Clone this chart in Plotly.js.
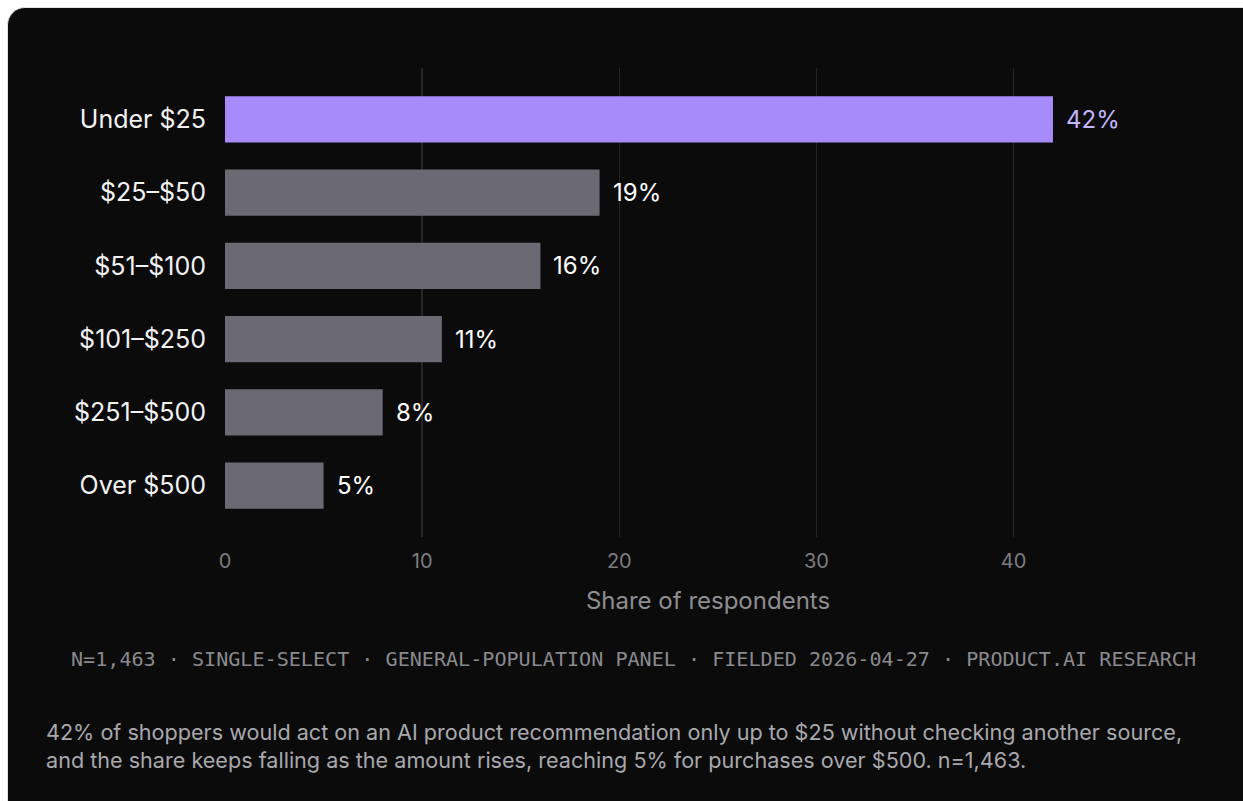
<!DOCTYPE html>
<html>
<head>
<meta charset="utf-8">
<script src="https://cdn.plot.ly/plotly-3.0.1.min.js"></script>
<style>
html,body{margin:0;padding:0;background:#ffffff;width:1243px;height:801px;overflow:hidden;}
#card{position:absolute;left:7px;top:7px;width:1260px;height:820px;background:#0b0b0b;border:1px solid #e2e2e2;border-radius:18px;}
#chart{position:absolute;left:0;top:0;width:1243px;height:801px;}
</style>
</head>
<body>
<div id="card"></div>
<div id="chart"></div>
<script>
const categories = ["Under $25", "$25–$50", "$51–$100", "$101–$250", "$251–$500", "Over $500"];
const shares = [42, 19, 16, 11, 8, 5];
const barColors = ["#a78bfa", "#6b6a73", "#6b6a73", "#6b6a73", "#6b6a73", "#6b6a73"];
const labelColors = ["#c4b5fd", "#ffffff", "#ffffff", "#ffffff", "#ffffff", "#ffffff"];
const xTicks = [0, 10, 20, 30, 40];
const footerText = "N=1,463 · SINGLE-SELECT · GENERAL-POPULATION PANEL · FIELDED 2026-04-27 · PRODUCT.AI RESEARCH";
const captionText = "42% of shoppers would act on an AI product recommendation only up to $25 without checking another source,<br>and the share keeps falling as the amount rises, reaching 5% for purchases over $500. n=1,463.";

const sans = "Inter, 'DejaVu Sans', sans-serif";
const mono = "'DejaVu Sans Mono', 'Liberation Mono', monospace";

const valueAnnots = categories.map((c, i) => ({
  x: shares[i], y: c, xref: "x", yref: "y",
  text: shares[i] + "%", showarrow: false, xanchor: "left", xshift: 11,
  font: {family: sans, size: 24, color: labelColors[i]}
}));

const data = [{
  type: "bar", orientation: "h",
  x: shares, y: categories,
  marker: {color: barColors},
  width: 0.63,
  hoverinfo: "skip"
}];

const layout = {
  width: 1243, height: 801,
  paper_bgcolor: "rgba(0,0,0,0)", plot_bgcolor: "rgba(0,0,0,0)",
  margin: {l: 225, r: 52, t: 68, b: 264},
  showlegend: false,
  xaxis: {
    range: [0, 49], tickvals: xTicks, ticktext: xTicks.map(String),
    showgrid: true, gridcolor: "#262626", gridwidth: 1.3, zeroline: false,
    showline: false, ticks: "", ticklabelstandoff: 10,
    tickfont: {family: sans, size: 20, color: "#7d7d80"},
    title: {text: "Share of respondents", standoff: 20, font: {family: sans, size: 24, color: "#8e8e92"}}
  },
  yaxis: {
    type: "category", range: [5.7, -0.7], autorange: false,
    showgrid: false, zeroline: false, showline: false, ticks: "",
    ticklabelstandoff: 18,
    tickfont: {family: sans, size: 25, color: "#f2f2f2"}
  },
  annotations: valueAnnots.concat([
    {xref: "paper", yref: "paper", x: 0.4224, y: -0.260, xanchor: "center", yanchor: "middle",
     text: footerText, showarrow: false, font: {family: mono, size: 20.1, color: "#8a8a8e"}},
    {xref: "paper", yref: "paper", x: -0.1874, y: -0.4456, xanchor: "left", yanchor: "middle", align: "left",
     text: captionText, showarrow: false, font: {family: sans, size: 21.6, color: "#a8a8ad"}}
  ])
};

Plotly.newPlot("chart", data, layout, {staticPlot: true, displayModeBar: false});
</script>
</body>
</html>
